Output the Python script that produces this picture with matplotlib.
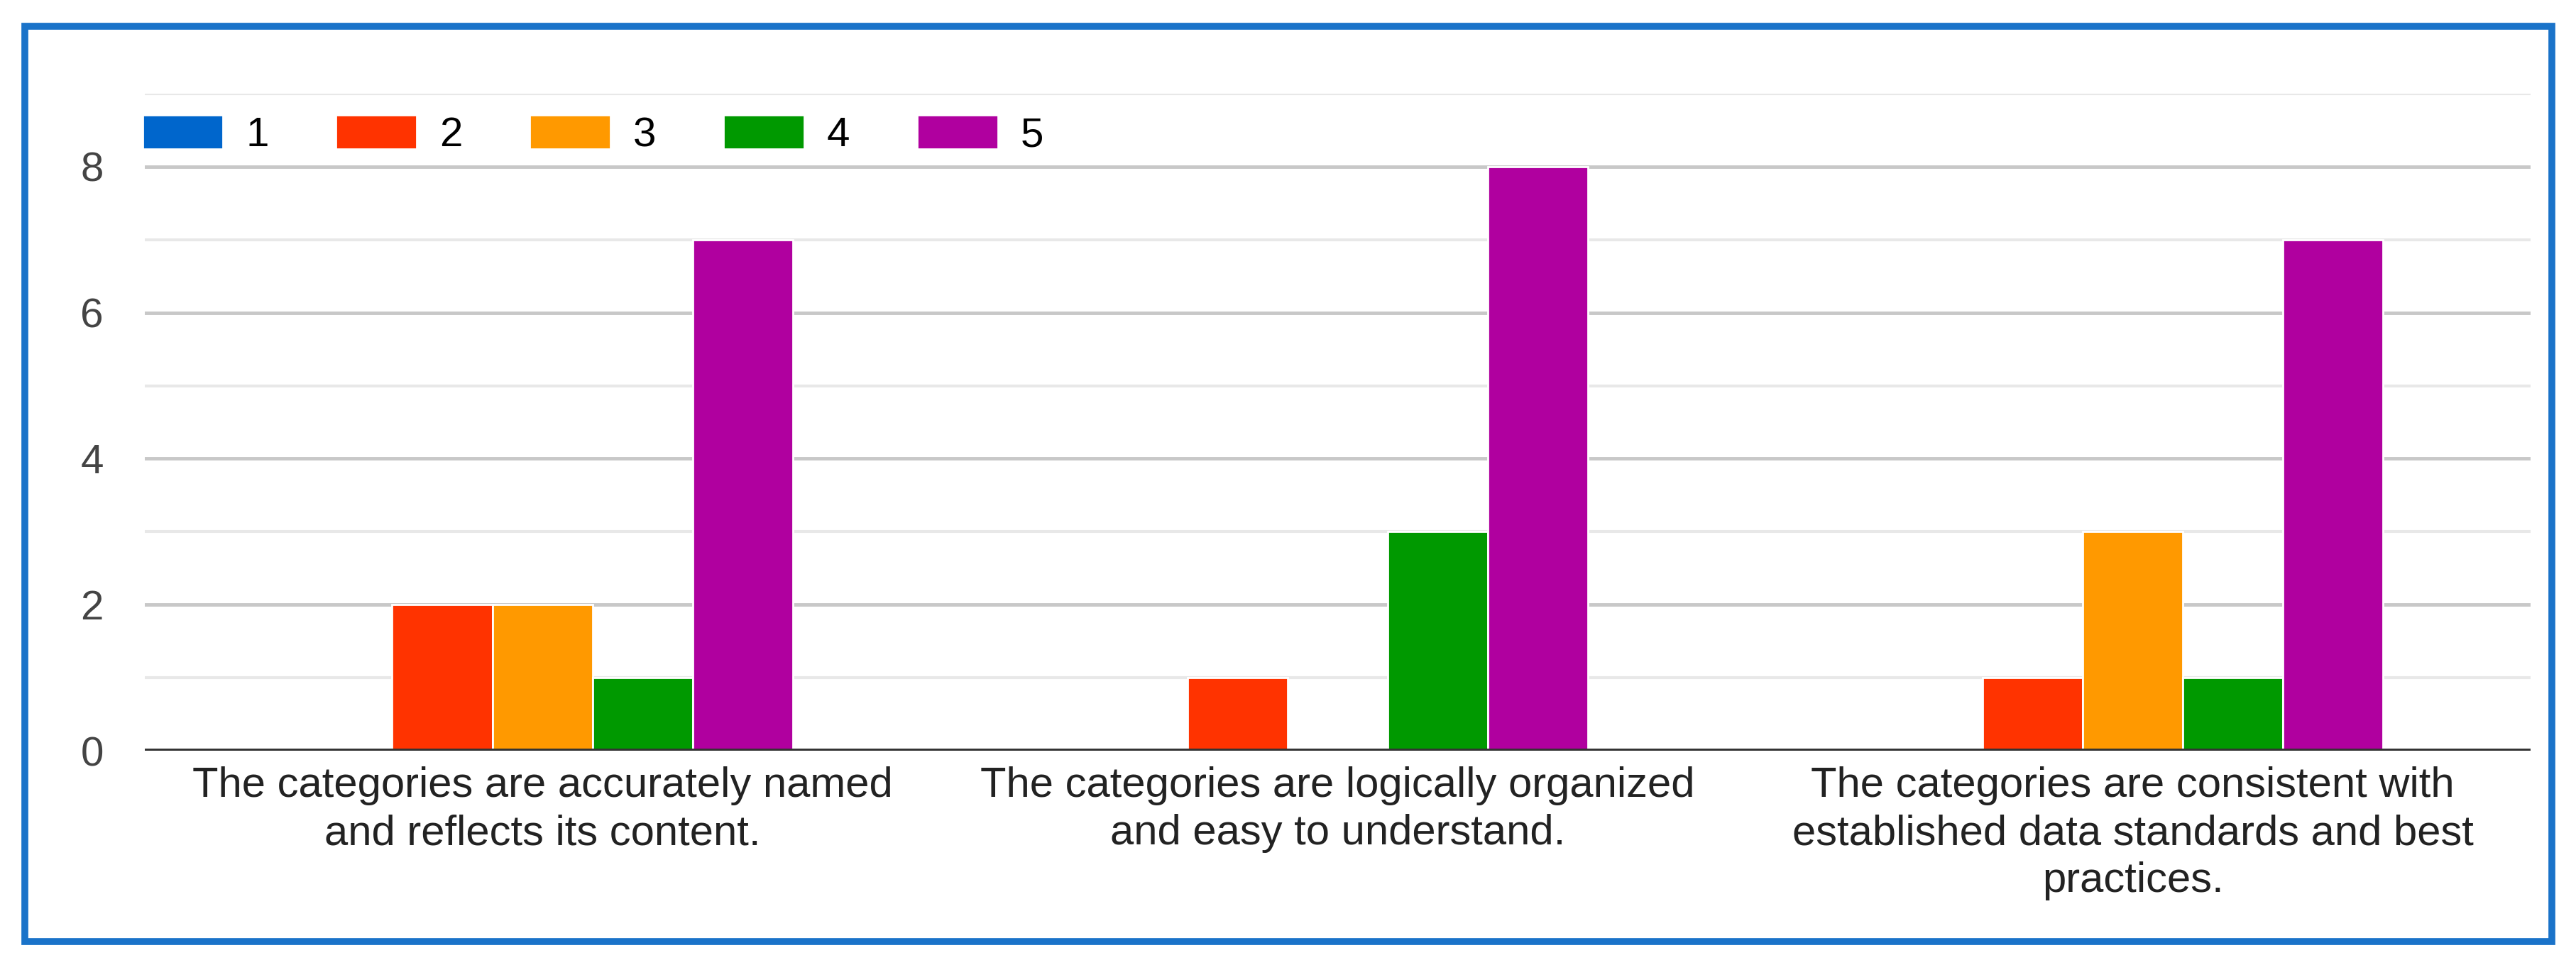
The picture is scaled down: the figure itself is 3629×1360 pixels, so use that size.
import numpy as np
import matplotlib
matplotlib.use("Agg")
import matplotlib.pyplot as plt
from matplotlib.patches import Rectangle

plt.rcParams['font.family'] = ['Liberation Sans', 'DejaVu Sans']

categories = ["The categories are accurately named\nand reflects its content.",
              "The categories are logically organized\nand easy to understand.",
              "The categories are consistent with\nestablished data standards and best\npractices."]
ratings = ["1", "2", "3", "4", "5"]
counts = [[0, 0, 0],   # 1
          [2, 1, 1],   # 2
          [2, 0, 3],   # 3
          [1, 3, 1],   # 4
          [7, 8, 7]]   # 5
colors = ["#0066cc", "#ff3300", "#ff9900", "#009900", "#b0009f"]

fig = plt.figure(figsize=(36.3, 13.6), dpi=100)
ax = fig.add_axes([0.0562, 0.222, 0.9258, 0.681])

x = np.arange(len(categories))
w = 0.126
for i, r in enumerate(ratings):
    ax.bar(x + (i - 2) * w, counts[i], width=w, color=colors[i],
           edgecolor="white", linewidth=2, label=r, zorder=3)

ax.set_xlim(-0.5, 2.5)
ax.set_ylim(0, 9)
ax.set_yticks([0, 2, 4, 6, 8])
ax.set_yticks([1, 3, 5, 7, 9], minor=True)
ax.grid(axis="y", which="major", color="#c8c8c8", linewidth=3.5, zorder=0)
ax.grid(axis="y", which="minor", color="#e8e8e8", linewidth=3, zorder=0)
ax.axhline(0, color="#333333", linewidth=5, zorder=4)
for s in ax.spines.values():
    s.set_visible(False)

ax.set_xticks(x)
ax.set_xticklabels(categories, fontsize=43, color="#222222", linespacing=1.28)
ax.tick_params(axis="x", length=0, pad=16)
ax.tick_params(axis="y", which="both", length=0, pad=42, labelsize=42, labelcolor="#444444")

ax.legend(loc="center left", bbox_to_anchor=(-0.001, 0.937), ncol=5, frameon=False,
          fontsize=42, handlelength=1.95, handleheight=0.88, handletextpad=0.55,
          columnspacing=1.62, borderaxespad=0, borderpad=0)

fig.patches.append(Rectangle((0.0096, 0.0243), 0.9808, 0.9485, transform=fig.transFigure,
                             fill=False, edgecolor="#1a73c9", linewidth=7))

fig.savefig("out.png", dpi=100)
